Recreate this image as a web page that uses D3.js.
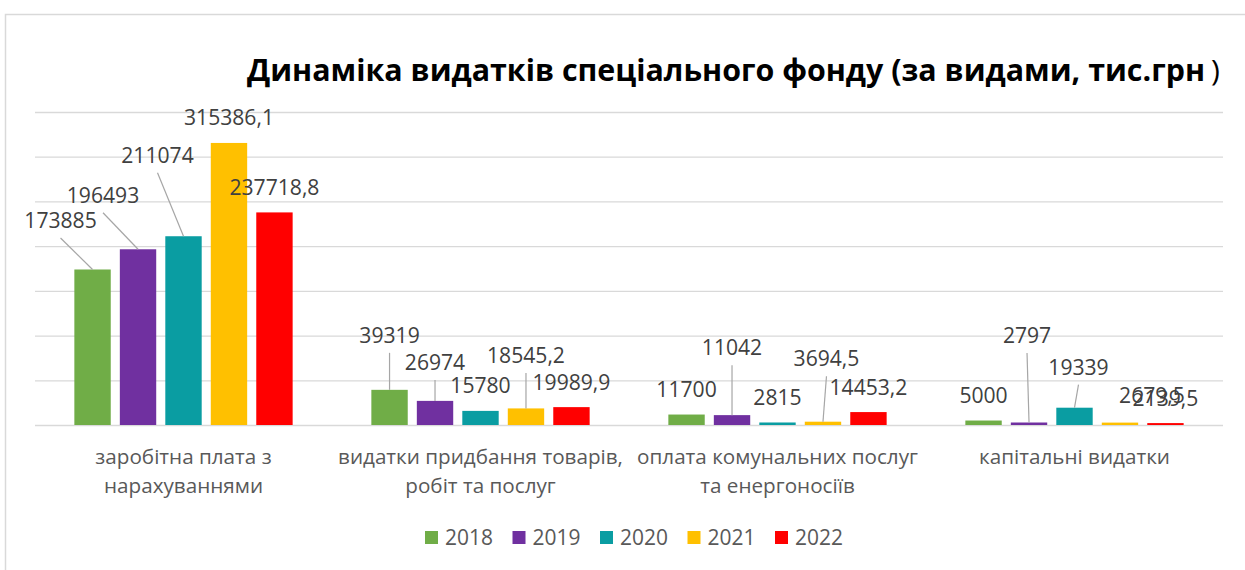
<!DOCTYPE html>
<html>
<head>
<meta charset="utf-8">
<script src="https://cdn.jsdelivr.net/npm/d3@7"></script>
<style>
  body { margin: 0; background: #fff; }
  svg { display: block; }
</style>
</head>
<body>
<script>
// data
const categories = [
  ["заробітна плата з", "нарахуваннями"],
  ["видатки придбання товарів,", "робіт та послуг"],
  ["оплата комунальних послуг", "та енергоносіїв"],
  ["капітальні видатки"]
];
const years = ["2018", "2019", "2020", "2021", "2022"];
const values2018 = [173885, 39319, 11700, 5000];
const values2019 = [196493, 26974, 11042, 2797];
const values2020 = [211074, 15780, 2815, 19339];
const values2021 = [315386.1, 18545.2, 3694.5, 2679.5];
const values2022 = [237718.8, 19989.9, 14453.2, 2139.5];
const yTicks = [0, 50000, 100000, 150000, 200000, 250000, 300000, 350000];
const title = "Динаміка видатків спеціального фонду (за видами, тис.грн";

const colors = ["#70ad47", "#7030a0", "#0a9da2", "#ffc000", "#ff0000"];

// labels dragged away from the bars (dx, baseline offset from bar top), leader lines drawn
const movedLabels = {
  "2018-0": [-32, -41.5, true], "2019-0": [-35, -46.5, true], "2020-0": [-26, -73.5, true],
  "2018-1": [0, -47, true], "2019-1": [0, -31, true], "2021-1": [0, -45.5, true],
  "2019-2": [0, -60, true], "2021-2": [3.5, -55.5, true],
  "2019-3": [-2, -79.5, true], "2020-3": [4, -33, true], "2021-3": [32, -19.5, false]
};

const series = years.map((y, i) => ({
  year: y,
  color: colors[i],
  values: [values2018, values2019, values2020, values2021, values2022][i]
}));

const W = 1245, H = 570;
const svg = d3.select("body").append("svg").attr("width", W).attr("height", H);

const FONT = "'Open Sans', 'Noto Sans', sans-serif";

// size a font so that a sample string gets the width seen in the picture
function fitSize(sample, target, weight) {
  const t = svg.append("text").attr("font-family", FONT).attr("font-weight", weight || 400)
    .attr("font-size", 100).text(sample);
  const w = t.node().getComputedTextLength();
  t.remove();
  return 100 * target / w;
}

// chart frame
svg.append("rect")
  .attr("x", 5.5).attr("y", 14.5).attr("width", W + 20).attr("height", H + 20)
  .attr("fill", "#fff").attr("stroke", "#d9d9d9").attr("stroke-width", 1.5);

const x0 = d3.scaleBand().domain(d3.range(categories.length)).range([35, 1223])
  .paddingInner(0.265).paddingOuter(0.1325);
const x1 = d3.scaleBand().domain(years).range([0, x0.bandwidth()]).paddingInner(0.2);
const y = d3.scaleLinear().domain([0, 350000]).range([425, 112]);

// gridlines
svg.append("g")
  .attr("transform", "translate(35,0)")
  .call(d3.axisLeft(y).tickValues(yTicks).tickSize(-(1223 - 35)).tickFormat(""))
  .call(g => g.select(".domain").remove())
  .call(g => g.selectAll(".tick line").attr("stroke", "#d9d9d9").attr("stroke-width", 1.3));

// bars
const groups = svg.append("g").selectAll("g")
  .data(series).join("g")
  .attr("fill", d => d.color);

groups.selectAll("rect")
  .data(d => d.values.map((v, i) => ({ v, i, year: d.year })))
  .join("rect")
  .attr("x", d => x0(d.i) + x1(d.year))
  .attr("y", d => y(d.v))
  .attr("width", x1.bandwidth())
  .attr("height", d => y(0) - y(d.v));

// data labels
const labelSize = fitSize("315386,1", 90);
const fmt = v => String(v).replace(".", ",");
const labels = [];
series.forEach(s => s.values.forEach((v, i) => {
  const cx = x0(i) + x1(s.year) + x1.bandwidth() / 2;
  const top = y(v);
  const m = movedLabels[s.year + "-" + i];
  labels.push({
    text: fmt(v), cx, top,
    lx: cx + (m ? m[0] : 0),
    ly: top + (m ? m[1] : -17.5),
    leader: m ? m[2] : false
  });
}));

svg.append("g").selectAll("line")
  .data(labels.filter(d => d.leader)).join("line")
  .attr("x1", d => d.lx).attr("y1", d => d.ly + 10)
  .attr("x2", d => d.cx).attr("y2", d => d.top)
  .attr("stroke", "#a6a6a6").attr("stroke-width", 1.2);

svg.append("g").selectAll("text")
  .data(labels).join("text")
  .attr("x", d => d.lx).attr("y", d => d.ly)
  .attr("text-anchor", "middle")
  .attr("font-family", FONT).attr("font-size", labelSize)
  .attr("fill", "#404040")
  .text(d => d.text);

// category labels
const catSize = fitSize("оплата комунальних послуг", 281);
svg.append("g").selectAll("text")
  .data(categories).join("text")
  .attr("text-anchor", "middle")
  .attr("font-family", FONT).attr("font-size", catSize)
  .attr("fill", "#595959")
  .each(function(lines, i) {
    d3.select(this).selectAll("tspan").data(lines).join("tspan")
      .attr("x", x0(i) + x0.bandwidth() / 2)
      .attr("y", (d, j) => 464 + j * 29)
      .text(d => d);
  });

// title, closing bracket is in a lighter weight in the original
svg.append("text")
  .attr("x", 247).attr("y", 81)
  .attr("font-family", FONT).attr("font-weight", 700).attr("font-size", 30)
  .attr("textLength", 958).attr("lengthAdjust", "spacingAndGlyphs")
  .attr("fill", "#000")
  .text(title);
svg.append("text")
  .attr("x", 1211).attr("y", 81)
  .attr("font-family", FONT).attr("font-weight", 400).attr("font-size", 30)
  .attr("fill", "#000")
  .text(")");

// legend
const legSize = fitSize("2018", 48);
const legend = svg.append("g").selectAll("g")
  .data(series).join("g")
  .attr("transform", (d, i) => `translate(${425 + i * 87.5},531)`);
legend.append("rect").attr("width", 13).attr("height", 13).attr("fill", d => d.color);
legend.append("text")
  .attr("x", 20).attr("y", 14)
  .attr("font-family", FONT).attr("font-size", legSize)
  .attr("fill", "#595959")
  .text(d => d.year);
</script>
</body>
</html>
